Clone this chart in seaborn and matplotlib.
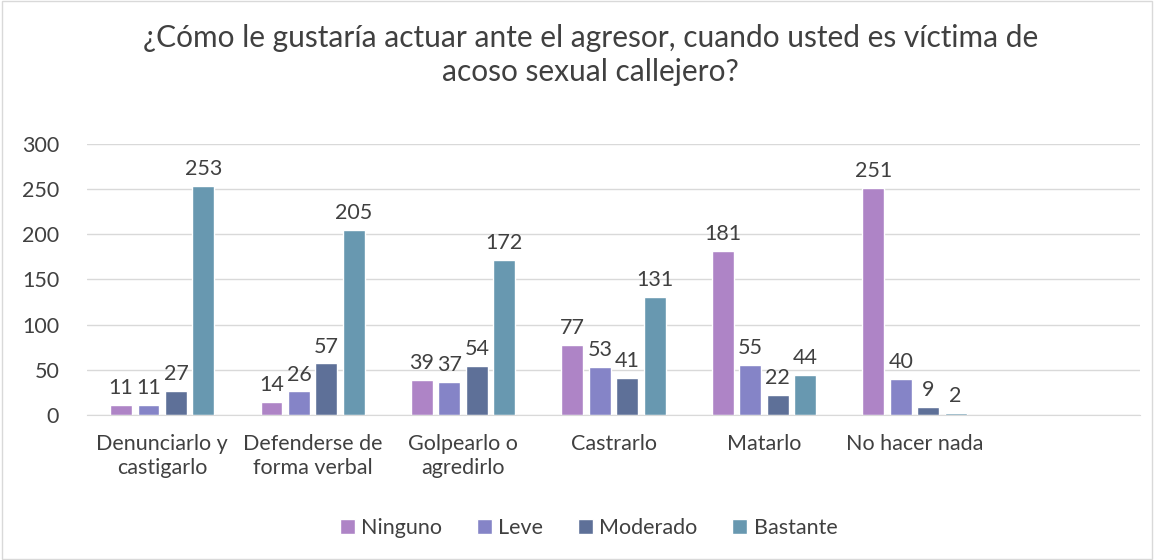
import pandas as pd
import matplotlib.pyplot as plt
import seaborn as sns

# Data
categorias = ['Denunciarlo y\ncastigarlo', 'Defenderse de\nforma verbal', 'Golpearlo o\nagredirlo',
              'Castrarlo', 'Matarlo', 'No hacer nada']
niveles = ['Ninguno', 'Leve', 'Moderado', 'Bastante']
ninguno = [11, 14, 39, 77, 181, 251]
leve = [11, 26, 37, 53, 55, 40]
moderado = [27, 57, 54, 41, 22, 9]
bastante = [253, 205, 172, 131, 44, 2]
colores = ['#AE84C6', '#8584C7', '#5E7098', '#6898B0']

rows = []
for nivel, vals in zip(niveles, [ninguno, leve, moderado, bastante]):
    for cat, v in zip(categorias, vals):
        rows.append({'Accion': cat, 'Nivel': nivel, 'Valor': v})
df = pd.DataFrame(rows)

sns.set_style('white')
plt.rcParams['font.family'] = ['Lato', 'DejaVu Sans']
txt = '#404040'
fs = 15.5

fig = plt.figure(figsize=(11.54, 5.6), dpi=100)
ax = fig.add_axes([0.0754, 0.259, 0.9126, 0.484])

# extra empty slot on the right, like the original
orden = categorias + [' ']
sns.barplot(data=df, x='Accion', y='Valor', hue='Nivel', order=orden, hue_order=niveles,
            palette=colores, saturation=1, width=0.73, gap=0.2, ax=ax, legend=True)

for cont in ax.containers:
    ax.bar_label(cont, padding=5, fontsize=fs, color=txt)

ax.set_ylim(0, 300)
ax.set_yticks(range(0, 301, 50))
ax.grid(axis='y', color='#D9D9D9', linewidth=1)
ax.set_axisbelow(True)
for s in ['top', 'right', 'left']:
    ax.spines[s].set_visible(False)
ax.spines['bottom'].set_color('#D9D9D9')
ax.tick_params(axis='both', length=0, labelsize=fs, labelcolor=txt)
ax.tick_params(axis='y', pad=20)
ax.tick_params(axis='x', pad=14)
ax.set_xlabel('')
ax.set_ylabel('')

fig.suptitle('¿Cómo le gustaría actuar ante el agresor, cuando usted es víctima de\nacoso sexual callejero?',
             x=0.512, y=0.957, fontsize=21.5, color=txt, linespacing=1.25)

handles, labels = ax.get_legend_handles_labels()
ax.legend(handles, labels, loc='center', bbox_to_anchor=(0.51, 0.057), bbox_transform=fig.transFigure,
          ncol=4, frameon=False, fontsize=fs, labelcolor=txt, handlelength=0.7, handleheight=0.7,
          handletextpad=0.3, columnspacing=1.6)

fig.patches.append(plt.Rectangle((0.002, 0.002), 0.996, 0.996, transform=fig.transFigure,
                                 fill=False, edgecolor='#D9D9D9', linewidth=1))

plt.savefig('out.png', dpi=100)
